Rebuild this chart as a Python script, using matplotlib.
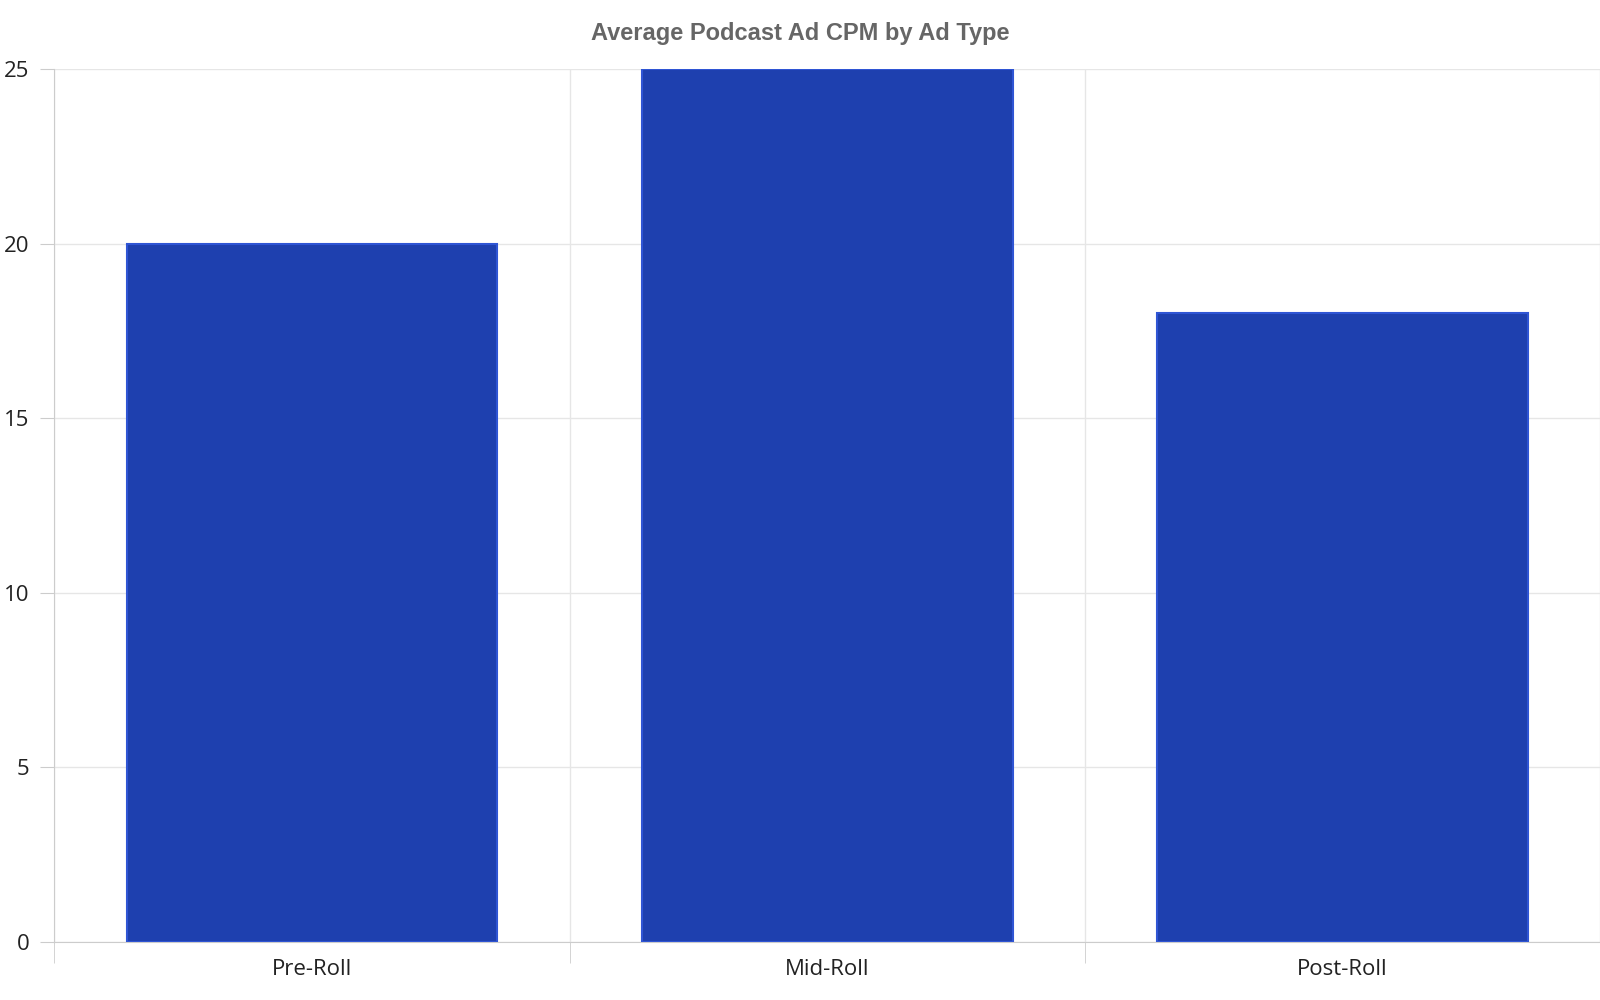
import matplotlib
matplotlib.use("Agg")
import matplotlib.pyplot as plt
from matplotlib.ticker import FixedLocator

categories = ["Pre-Roll", "Mid-Roll", "Post-Roll"]
cpm_values = [20, 25, 18]
y_ticks = [0, 5, 10, 15, 20, 25]

fig = plt.figure(figsize=(16, 10), dpi=100)
ax = fig.add_axes([0.034, 0.058, 0.966, 0.873])
x = list(range(len(categories)))
ax.bar(x, cpm_values, width=0.72, color="#1e40af", edgecolor="#2f55d4", linewidth=1.5, zorder=3)
ax.set_xlim(-0.5, len(categories) - 0.5)
ax.set_ylim(0, 25)
ax.set_yticks(y_ticks)
ax.set_xticks(x)
ax.set_xticklabels(categories, fontfamily="Open Sans", fontsize=16, color="#222222")
for lab in ax.get_yticklabels():
    lab.set_fontfamily("Open Sans"); lab.set_fontsize(16); lab.set_color("#222222")
ax.xaxis.set_minor_locator(FixedLocator([-0.5, 0.5, 1.5, 2.5]))
ax.tick_params(axis="x", which="major", length=0, pad=12)
ax.tick_params(axis="x", which="minor", length=15, color="#cccccc")
ax.tick_params(axis="y", length=10, color="#cccccc", pad=8)
ax.grid(axis="y", color="#e6e6e6", linewidth=1, zorder=0)
ax.grid(axis="x", which="minor", color="#e6e6e6", linewidth=1, zorder=0)
for s in ["top", "right"]:
    ax.spines[s].set_visible(False)
ax.spines["left"].set_color("#cccccc")
ax.spines["bottom"].set_color("#cccccc")
fig.suptitle("Average Podcast Ad CPM by Ad Type", x=0.5, y=0.978, fontsize=17,
             fontweight="bold", color="#666666", fontfamily="Liberation Sans")
fig.savefig("out.png", dpi=100)
